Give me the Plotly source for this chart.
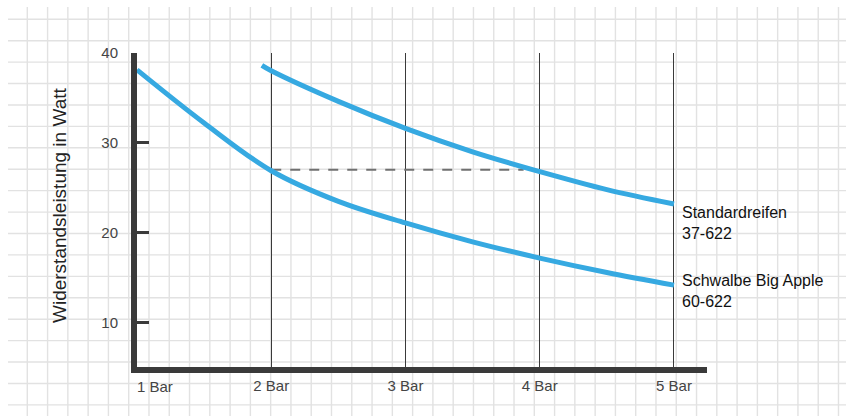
import plotly.graph_objects as go

# ---- data ----
pressure_ticks = [2, 3, 4, 5]
pressure_labels = ["2 Bar", "3 Bar", "4 Bar", "5 Bar"]
first_tick_value = 1
first_tick_label = "1 Bar"
watt_ticks = [10, 20, 30, 40]
watt_labels = ["10", "20", "30", "40"]

bigapple_x = [1, 1.5, 2, 2.5, 3, 3.5, 4, 4.5, 5]
bigapple_y = [38.1, 32.2, 26.9, 23.5, 21.1, 19.0, 17.2, 15.6, 14.2]

standard_x = [1.93, 2, 2.5, 3, 3.5, 4, 4.5, 5]
standard_y = [38.6, 38.0, 34.6, 31.6, 29.0, 26.8, 24.8, 23.2]

compare_x = [2, 3.88]
compare_y = [27, 27]

standard_label = "Standardreifen<br>37-622"
bigapple_label = "Schwalbe Big Apple<br>60-622"
y_title = "Widerstandsleistung in Watt"

# ---- styling ----
W, H = 846, 416
BLUE = "#36a9e1"
DARK = "#3a3a3a"
FONT = "Liberation Sans, Arial, Helvetica, sans-serif"

fig = go.Figure()

fig.add_trace(go.Scatter(x=compare_x, y=compare_y, mode="lines",
                         line=dict(color="#707070", width=2, dash="10px,9px"),
                         hoverinfo="skip", showlegend=False))
fig.add_trace(go.Scatter(x=bigapple_x, y=bigapple_y, mode="lines", name="Schwalbe Big Apple 60-622",
                         line=dict(color=BLUE, width=5, shape="spline", smoothing=1),
                         showlegend=False))
fig.add_trace(go.Scatter(x=standard_x, y=standard_y, mode="lines", name="Standardreifen 37-622",
                         line=dict(color=BLUE, width=5, shape="spline", smoothing=1),
                         showlegend=False))

# graph-paper background
parts = []
for k in range(41):
    px = 27.3 + 20.28 * k
    parts.append(f"M{px / W:.5f},{1 - 7 / H:.5f}L{px / W:.5f},0")
for k in range(19):
    py = 19.3 + 21.42 * k
    parts.append(f"M{8 / W:.5f},{1 - py / H:.5f}L1,{1 - py / H:.5f}")
grid_path = "".join(parts)

fig.update_layout(
    width=W, height=H,
    margin=dict(l=0, r=0, t=0, b=0, autoexpand=False),
    paper_bgcolor="white",
    plot_bgcolor="rgba(0,0,0,0)",
    font=dict(family=FONT, size=15, color="#444"),
    shapes=[dict(type="path", path=grid_path, xref="paper", yref="paper",
                 line=dict(color="#e2e2e2", width=1.4), layer="below")],
    xaxis=dict(domain=[137 / W, 707 / W], range=[1, 5.246],
               showline=True, linewidth=6, linecolor=DARK,
               tickvals=pressure_ticks, ticktext=pressure_labels, ticks="",
               showgrid=True, gridcolor=DARK, gridwidth=1.3, zeroline=False,
               automargin=False,
               tickfont=dict(size=15, color="#444"), fixedrange=True),
    yaxis=dict(domain=[1 - 367 / H, 1 - 52.7 / H], range=[5.11, 40],
               showline=True, linewidth=6, linecolor=DARK,
               tickvals=watt_ticks, ticktext=watt_labels,
               ticks="inside", ticklen=12, tickwidth=3, tickcolor=DARK,
               showgrid=False, zeroline=False, automargin=False,
               ticklabelstandoff=10,
               tickfont=dict(size=15, color="#444"), fixedrange=True),
    annotations=[
        dict(x=first_tick_value, y=1 - 386 / H, xref="x", yref="paper",
             text=first_tick_label, showarrow=False, xanchor="left", yanchor="middle",
             xshift=-2, font=dict(size=15, color="#444")),
        dict(x=5, y=standard_y[-1], xref="x", yref="y", text=standard_label,
             showarrow=False, xanchor="left", yanchor="top", align="left",
             xshift=6, yshift=2, font=dict(size=16, color="#111")),
        dict(x=5, y=bigapple_y[-1], xref="x", yref="y", text=bigapple_label,
             showarrow=False, xanchor="left", yanchor="top", align="left",
             xshift=6, yshift=15, font=dict(size=16, color="#111")),
        dict(x=59 / W, y=1 - 205 / H, xref="paper", yref="paper", text=y_title,
             showarrow=False, textangle=-90, xanchor="center", yanchor="middle",
             font=dict(size=19, color="#222")),
    ],
)

fig.write_html("out.html", post_script="document.body.style.margin='0px';",
               config={"displayModeBar": False})
